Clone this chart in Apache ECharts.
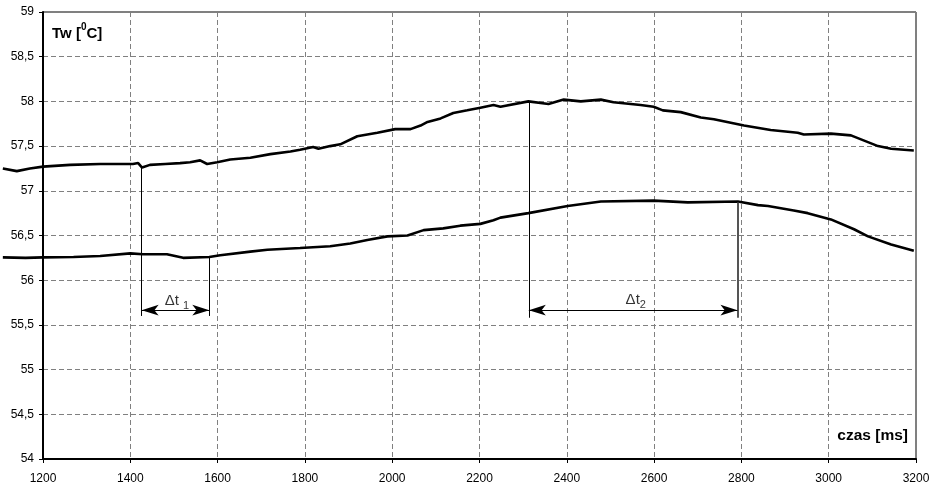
<!DOCTYPE html>
<html>
<head>
<meta charset="utf-8">
<script src="https://cdn.jsdelivr.net/npm/echarts@6/dist/echarts.min.js"></script>
<style>
html,body{margin:0;padding:0;background:#fff;}
#c{width:935px;height:486px;}
</style>
</head>
<body>
<div id="c"></div>
<script>
// time [ms] and temperature [°C] for the upper curve
var upperX = [1108,1140,1170,1200,1262,1331,1406,1418,1427,1445,1480,1514,1537,1560,1576,1599,1629,1675,1721,1767,1789,1819,1831,1858,1881,1920,1966,2007,2042,2065,2081,2111,2140,2172,2202,2232,2248,2312,2358,2393,2432,2478,2507,2569,2599,2620,2661,2707,2737,2806,2867,2929,2943,3005,3051,3113,3143,3195];
var upperY = [57.25,57.22,57.25,57.27,57.29,57.30,57.30,57.31,57.26,57.29,57.30,57.31,57.32,57.34,57.30,57.32,57.35,57.37,57.41,57.44,57.46,57.49,57.47,57.50,57.52,57.61,57.65,57.69,57.69,57.73,57.77,57.81,57.87,57.90,57.93,57.96,57.94,58.00,57.97,58.02,58.00,58.02,57.99,57.96,57.94,57.90,57.88,57.82,57.80,57.73,57.68,57.65,57.63,57.64,57.62,57.50,57.47,57.45];
// lower curve
var lowerX = [1108,1160,1200,1270,1331,1400,1429,1484,1521,1581,1606,1675,1714,1789,1858,1904,1943,1989,2035,2072,2117,2156,2202,2232,2248,2312,2402,2478,2599,2677,2792,2838,2861,2920,2952,3005,3058,3090,3143,3195];
var lowerY = [56.255,56.25,56.255,56.26,56.27,56.30,56.29,56.29,56.25,56.26,56.28,56.32,56.34,56.36,56.38,56.41,56.45,56.49,56.50,56.56,56.58,56.61,56.63,56.67,56.70,56.75,56.83,56.88,56.89,56.87,56.88,56.84,56.83,56.78,56.75,56.68,56.57,56.49,56.40,56.33];

// annotation: delay markers [ms] with top values on each curve
var dt1Start = [1426, 57.26];
var dt1End = [1581, 56.26];
var dt2Start = [2313, 58.00];
var dt2End = [2791, 56.87];
var dtBottom = [55.60, 55.58];
var dtArrowY = [55.665, 55.665];
var dtLabelPos = [[1507, 55.79], [2558, 55.80]];
var dtLabelText = ['{a|\u0394t }{s|1}', '{a|\u0394t}{s|2}'];

var xTicks = {min: 1200, max: 3200, interval: 200};
var yTicks = {min: 54, max: 59, interval: 0.5};
// the recorded curves start a little before the first x tick (left of the y axis)
var curveStart = 1108.36;

function zip(a, b) { return a.map(function (v, i) { return [v, b[i]]; }); }

var FONT = "'Liberation Sans', Arial, sans-serif";
var GL = 43, GR = 19, GT = 12, GB = 27;
var plotW = 935 - GL - GR;
var curveLeft = GL - (xTicks.min - curveStart) * plotW / (xTicks.max - xTicks.min);

var chart = echarts.init(document.getElementById('c'), null, {renderer: 'canvas'});
chart.setOption({
  animation: false,
  backgroundColor: '#fff',
  grid: [
    {left: GL, right: GR, top: GT, bottom: GB, show: true, borderColor: '#000', borderWidth: 1, backgroundColor: 'transparent'},
    {left: curveLeft, right: GR, top: GT, bottom: GB, show: false}
  ],
  xAxis: [{
    type: 'value', gridIndex: 0, min: xTicks.min, max: xTicks.max, interval: xTicks.interval,
    axisLine: {show: true, onZero: false, lineStyle: {color: '#000', width: 2}},
    axisTick: {show: true, length: 4, lineStyle: {color: '#000'}},
    axisLabel: {color: '#000', fontFamily: FONT, fontSize: 12, margin: 14,
      formatter: function (v) { return String(v); }},
    splitLine: {show: true, lineStyle: {color: '#808080', type: [5, 3], width: 1}}
  }, {
    type: 'value', gridIndex: 1, min: curveStart, max: xTicks.max, show: false,
    splitLine: {show: false}
  }],
  yAxis: [{
    type: 'value', gridIndex: 0, min: yTicks.min, max: yTicks.max, interval: yTicks.interval,
    axisLine: {show: true, onZero: false, lineStyle: {color: '#000', width: 2}},
    axisTick: {show: true, length: 4, lineStyle: {color: '#000'}},
    axisLabel: {color: '#000', fontFamily: FONT, fontSize: 12, margin: 9,
      formatter: function (v) { return String(v).replace('.', ','); }},
    splitLine: {show: true, lineStyle: {color: '#808080', type: [5, 3], width: 1}}
  }, {
    type: 'value', gridIndex: 1, min: yTicks.min, max: yTicks.max, show: false,
    splitLine: {show: false}
  }],
  graphic: [
    {type: 'text', left: 52, top: 21, style: {
      text: '{b|Tw [}{sup|0}{b|C]}',
      rich: {
        b: {fontFamily: FONT, fontSize: 15, fontWeight: 'bold', fill: '#000', lineHeight: 20, verticalAlign: 'bottom'},
        sup: {fontFamily: FONT, fontSize: 10, fontWeight: 'bold', fill: '#000', lineHeight: 20, verticalAlign: 'top', padding: [1, 0, 0, 0]}
      }
    }},
    {type: 'text', right: 27, top: 428, style: {
      text: 'czas [ms]', fontFamily: FONT, fontSize: 15.5, fontWeight: 'bold', fill: '#000'
    }}
  ],
  series: [
    {type: 'line', xAxisIndex: 1, yAxisIndex: 1, data: zip(upperX, upperY), symbol: 'none', silent: true,
      lineStyle: {color: '#000', width: 2.6}},
    {type: 'line', xAxisIndex: 1, yAxisIndex: 1, data: zip(lowerX, lowerY), symbol: 'none', silent: true,
      lineStyle: {color: '#000', width: 2.6}},
    {type: 'line', data: [], symbol: 'none', silent: true,
      markLine: {
        silent: true, animation: false, symbol: ['none', 'none'],
        label: {show: false},
        data: [
          [{coord: [dt1Start[0], dt1Start[1]], lineStyle: {color: '#000', width: 1, type: 'solid'}}, {coord: [dt1Start[0], dtBottom[0]]}],
          [{coord: [dt1End[0], dt1End[1]], lineStyle: {color: '#000', width: 1, type: 'solid'}}, {coord: [dt1End[0], dtBottom[0]]}],
          [{coord: [dt2Start[0], dt2Start[1]], lineStyle: {color: '#000', width: 1, type: 'solid'}}, {coord: [dt2Start[0], dtBottom[1]]}],
          [{coord: [dt2End[0], dt2End[1]], lineStyle: {color: '#555', width: 2, type: 'solid'}}, {coord: [dt2End[0], dtBottom[1]]}]
        ]
      }},
    {type: 'line', data: [], symbol: 'none', silent: true,
      markLine: {
        silent: true, animation: false, symbol: ['arrow', 'arrow'], symbolSize: [8, 17],
        label: {show: false},
        lineStyle: {color: '#000', width: 1, type: 'solid'},
        data: [
          [{coord: [dt1Start[0], dtArrowY[0]]}, {coord: [dt1End[0], dtArrowY[0]]}],
          [{coord: [dt2Start[0], dtArrowY[1]]}, {coord: [dt2End[0], dtArrowY[1]]}]
        ]
      }},
    {type: 'scatter', silent: true, symbolSize: 1, itemStyle: {color: 'rgba(0,0,0,0)'},
      data: dtLabelPos.map(function (p, i) { return {value: p, name: dtLabelText[i]}; }),
      label: {show: true, position: 'inside', formatter: function (p) { return p.name; },
        rich: {
          a: {fontFamily: FONT, fontSize: 15, color: '#000', lineHeight: 18, verticalAlign: 'bottom'},
          s: {fontFamily: FONT, fontSize: 11, color: '#000', lineHeight: 18, verticalAlign: 'bottom', padding: [0, 0, -3, 0]}
        }}
    }
  ]
});
</script>
</body>
</html>
